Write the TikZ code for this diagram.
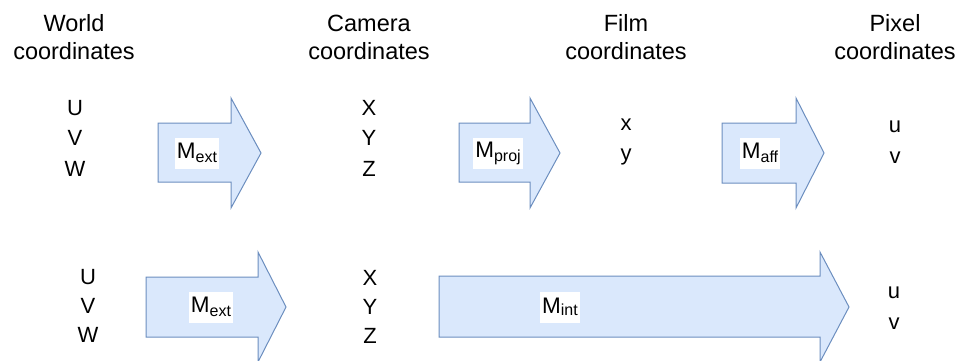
\documentclass[tikz,border=0pt]{standalone}
\usepackage{fontspec}
\setmainfont{Liberation Sans}
\definecolor{arrfill}{HTML}{DAE8FC}
\definecolor{arrdraw}{HTML}{6C8EBF}
\newcommand{\blockarrow}[7]{%
  % #1 body left, #2 body top, #3 body bottom, #4 head base, #5 head top, #6 head bottom, #7 tip
  \draw[arrstyle] (#1,#2) -- (#4,#2) -- (#4,#5) -- (#7,{(#5+#6)/2}) -- (#4,#6) -- (#4,#3) -- (#1,#3) -- cycle;}
\newcommand{\mlab}[1]{M\raisebox{-4pt}{\fontsize{16}{16}\selectfont #1}}
\begin{document}
\begin{tikzpicture}[x=1pt,y=-1pt,
  arrstyle/.style={fill=arrfill,draw=arrdraw,line width=1pt,line join=miter},
  head/.style={align=center,font=\fontsize{23.5}{28}\selectfont,inner sep=0pt},
  var/.style={align=center,font=\fontsize{22}{30.5}\selectfont,inner sep=0pt},
  varb/.style={align=center,font=\fontsize{22}{29}\selectfont,inner sep=0pt},
  lab/.style={fill=white,inner sep=2pt,minimum height=31pt,font=\fontsize{22.5}{22}\selectfont}]
\useasboundingbox (0,0) rectangle (965,360);
% headers
\node[head] (hw) at (74,37) {World\\coordinates};
\node[head] (hc) at (369,37) {Camera\\coordinates};
\node[head] (hf) at (626,37) {Film\\coordinates};
\node[head] (hp) at (895,37) {Pixel\\coordinates};
% top row
\blockarrow{158}{123}{182}{231}{98}{208}{261}
\blockarrow{459}{123}{182}{530}{98}{208}{560}
\blockarrow{722}{123}{183}{796}{98}{208}{824}
\node[var] (uvw1) at (75,138) {U\\V\\W};
\node[var] (xyz1) at (369,138) {X\\Y\\Z};
\node[var] (xy1) at (626,142) {x\\y};
\node[var] (uv1) at (895,142) {u\\v};
\node[lab] (me1) at (197,153) {\mlab{ext}};
\node[lab] (mp1) at (498,153) {\mlab{proj}};
\node[lab] (ma1) at (760,153) {\mlab{aff}};
% bottom row
\blockarrow{146}{277}{337}{258}{252}{362}{286}
\blockarrow{439}{276}{337}{820}{252}{362}{849}
\node[varb] (uvw2) at (88,306) {U\\V\\W};
\node[varb] (xyz2) at (370,307) {X\\Y\\Z};
\node[var] (uv2) at (894,308) {u\\v};
\node[lab] (me2) at (211,307) {\mlab{ext}};
\node[lab] (mi2) at (560,307) {M\raisebox{-2pt}{\fontsize{16}{16}\selectfont int}};
\end{tikzpicture}
\end{document}
